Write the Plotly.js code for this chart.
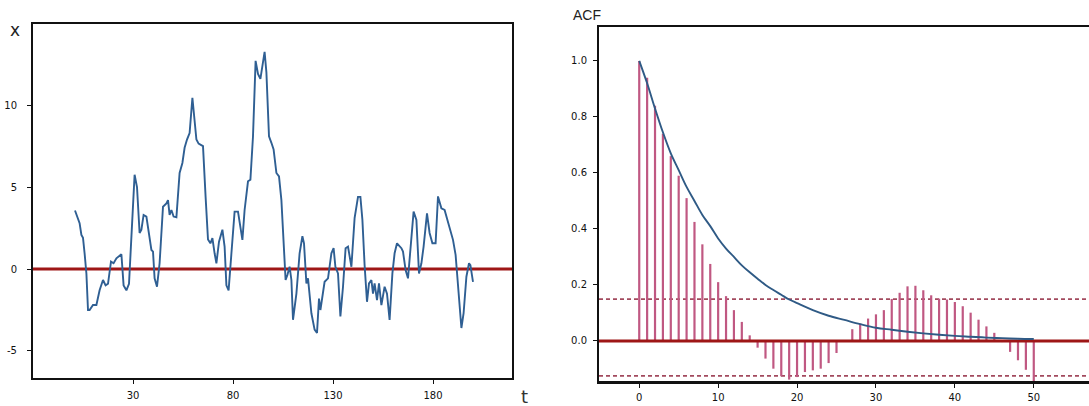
<!DOCTYPE html>
<html>
<head>
<meta charset="utf-8">
<script src="https://cdn.plot.ly/plotly-3.0.1.min.js"></script>
<style>html,body{margin:0;padding:0;background:#fff;}#chart{width:1089px;height:406px;}</style>
</head>
<body>
<div id="chart"></div>
<script>
// Left panel: time series x(t) (vertices)
const seriesT = [1,2.5,3.3,4.2,5,5.8,6.7,7.5,8.3,10,11.7,13.3,15,16.3,17.5,19,20.3,21.7,23,24.2,25.3,26.7,28,29.2,30.8,32,33.3,34.2,35.3,36.7,38,39.2,40,40.8,42,43.3,45,46.7,47.5,48.3,49.2,50.3,51.7,53.3,54.7,55.8,57,58.3,59.7,60.8,61.7,62.8,65,66.3,67.5,68.7,69.7,70.8,71.7,73,74.7,75.8,76.7,77.8,79.2,80.8,82.5,83.3,84.7,85.8,87.5,88.7,90,91.3,92.5,93.7,95,95.8,96.7,98,99.2,100.3,101.7,103,104.2,105.3,106.3,107.2,108.3,109.2,110,111.7,113.3,114.7,115.5,116.7,117.5,119.2,120.8,122,123,123.7,124.7,125.8,127.5,129.2,130.3,131.2,132.5,133.7,135,136.3,137.5,139.2,140.8,142.5,143.7,144.7,145.8,147,148,149.2,150,150.8,152,153,154.2,155.8,157,158.3,159.7,160.8,162,163.3,164.2,165,166.3,167.5,168.8,170.3,171.7,173,174.2,175.3,177,178.3,179.7,181.3,182.5,183.3,184.2,185.8,188.3,190,191.3,192.5,194.2,195.3,196.7,198,198.7,200];
const seriesX = [3.57,3.0,2.8,2.08,1.9,0.96,-0.27,-2.5,-2.5,-2.2,-2.2,-1.3,-0.67,-1.0,-0.9,0.45,0.35,0.65,0.8,0.9,-1.0,-1.3,-0.9,2.2,5.75,5.0,2.2,2.4,3.3,3.2,2.0,1.16,1.06,-0.57,-1.08,0.35,3.8,4.0,4.2,3.3,3.6,3.2,3.16,5.86,6.47,7.4,7.9,8.3,10.45,9.1,7.9,7.65,7.5,4.4,1.8,1.57,1.88,0.96,0.35,1.67,2.4,1.37,-1.0,-1.3,0.96,3.5,3.5,2.9,1.78,3.6,5.35,5.45,8.1,12.7,11.9,11.6,12.5,13.25,12.0,8.1,7.7,7.3,5.86,5.65,4.2,1.78,-0.67,-0.37,0.14,-0.67,-3.1,-1.5,0.96,2.0,1.57,-0.88,-0.57,-2.7,-3.7,-3.9,-1.8,-2.5,-1.6,-0.78,-0.57,0.96,1.27,0.14,-0.27,-2.9,-1.08,1.27,1.37,0.14,3.1,4.4,4.4,3.0,0.24,-2.0,-0.88,-0.67,-1.5,-0.88,-1.9,-0.88,-2.2,-1.08,-1.5,-3.1,-0.27,0.96,1.57,1.4,1.27,1.06,-0.06,-0.57,1.37,3.5,3.0,-0.27,0.35,1.37,3.4,2.2,1.57,1.57,4.43,4.1,3.7,3.6,2.6,1.78,0.86,-0.88,-3.6,-2.7,-0.47,0.35,0.24,-0.78];
const leftXTicks = [30,80,130,180];
const leftYTicks = [-5,0,5,10];

// Right panel: sample ACF by lag
const lags = [0,1,2,3,4,5,6,7,8,9,10,11,12,13,14,15,16,17,18,19,20,21,22,23,24,25,26,27,28,29,30,31,32,33,34,35,36,37,38,39,40,41,42,43,44,45,46,47,48,49,50];
const acf = [1.0,0.94,0.84,0.74,0.66,0.59,0.51,0.425,0.345,0.275,0.21,0.16,0.11,0.068,0.02,-0.024,-0.063,-0.099,-0.126,-0.138,-0.129,-0.111,-0.105,-0.099,-0.079,-0.043,0.0,0.042,0.062,0.08,0.095,0.11,0.15,0.172,0.195,0.197,0.181,0.163,0.151,0.148,0.139,0.124,0.101,0.076,0.052,0.029,-0.004,-0.039,-0.069,-0.103,-0.159];
// Theoretical ACF curve
const curveLag = [0,1,2,3,4,5,6,7,8,9,10,11,12,13,14,15,16,17,18,19,20,22,24,26,28,30,32,34,36,38,40,42,44,46,48,50];
const curveVal = [1.0,0.92,0.83,0.745,0.67,0.61,0.55,0.5,0.45,0.41,0.366,0.33,0.3,0.27,0.245,0.222,0.2,0.182,0.165,0.148,0.135,0.11,0.09,0.075,0.06,0.047,0.04,0.033,0.027,0.022,0.018,0.015,0.012,0.01,0.008,0.007];
const confUpper = 0.149;
const confLower = -0.125;
const rightXTicks = [0,10,20,30,40,50,60];
const rightYTicks = [0.0,0.2,0.4,0.6,0.8,1.0];

const stemX = [], stemY = [];
lags.forEach((k,i)=>{ stemX.push(k,k,null); stemY.push(0,acf[i],null); });

const rXr = [-5.1, 57.0];
const lXr = [-20, 219.5];

const traces = [
  {x: lXr, y:[0,0], xaxis:'x', yaxis:'y', mode:'lines', line:{color:'#9e1616', width:3.2}, hoverinfo:'skip'},
  {x: seriesT, y: seriesX, xaxis:'x', yaxis:'y', mode:'lines', line:{color:'#2f5f93', width:1.9}},
  {x: rXr, y:[confUpper,confUpper], xaxis:'x2', yaxis:'y2', mode:'lines', line:{color:'#a24a5e', width:1.8, dash:'4px,3px'}},
  {x: rXr, y:[confLower,confLower], xaxis:'x2', yaxis:'y2', mode:'lines', line:{color:'#a24a5e', width:1.8, dash:'4px,3px'}},
  {x: stemX, y: stemY, xaxis:'x2', yaxis:'y2', mode:'lines', line:{color:'#c05882', width:2.2}},
  {x: rXr, y:[0,0], xaxis:'x2', yaxis:'y2', mode:'lines', line:{color:'#9e1616', width:3}},
  {x: curveLag, y: curveVal, xaxis:'x2', yaxis:'y2', mode:'lines', line:{color:'#2f5a85', width:1.9, shape:'spline'}}
];

const tickFont = {family:'DejaVu Sans', size:10, color:'#111'};
const layout = {
  width:1089, height:406, showlegend:false,
  margin:{l:0,r:0,t:0,b:0},
  paper_bgcolor:'#fff', plot_bgcolor:'#fff',
  xaxis:{domain:[33/1089, 512/1089], range:lXr, tickvals:leftXTicks, ticktext:leftXTicks.map(String),
    showgrid:false, zeroline:false, showline:true, mirror:true, linecolor:'#111', linewidth:2,
    ticks:'outside', ticklen:4, tickcolor:'#111', tickfont:tickFont, ticklabelstandoff:3, anchor:'y'},
  yaxis:{domain:[1-378/406, 1-24/406], range:[-6.65,14.95], tickvals:leftYTicks, ticktext:leftYTicks.map(String),
    showgrid:false, zeroline:false, showline:true, mirror:true, linecolor:'#111', linewidth:2,
    ticks:'outside', ticklen:4, tickcolor:'#111', tickfont:tickFont, ticklabelstandoff:8, anchor:'x'},
  xaxis2:{domain:[599/1089, 1], range:rXr, tickvals:rightXTicks, ticktext:rightXTicks.map(String),
    showgrid:false, zeroline:false, showline:true, mirror:true, linecolor:'#111', linewidth:2.5,
    ticks:'outside', ticklen:4, tickcolor:'#111', tickfont:tickFont, ticklabelstandoff:1, anchor:'y2'},
  yaxis2:{domain:[1-381/406, 1-27/406], range:[-0.143,1.121], tickvals:rightYTicks, ticktext:rightYTicks.map(v=>v.toFixed(1)),
    showgrid:false, zeroline:false, showline:true, mirror:false, linecolor:'#111', linewidth:2,
    ticks:'outside', ticklen:4, tickcolor:'#111', tickfont:tickFont, ticklabelstandoff:4, anchor:'x2'},
  annotations:[
    {text:'x', xref:'paper', yref:'paper', x:15/1089, y:1-30/406, xanchor:'center', yanchor:'middle', showarrow:false, font:{family:'DejaVu Sans', size:17, color:'#222'}},
    {text:'t', xref:'paper', yref:'paper', x:524/1089, y:1-396/406, xanchor:'center', yanchor:'middle', showarrow:false, font:{family:'DejaVu Sans', size:18, color:'#333'}},
    {text:'ACF', xref:'paper', yref:'paper', x:587/1089, y:1-15/406, xanchor:'center', yanchor:'middle', showarrow:false, font:{family:'Liberation Sans', size:14, color:'#222'}}
  ]
};
Plotly.newPlot('chart', traces, layout, {staticPlot:true, displayModeBar:false});
</script>
</body>
</html>
